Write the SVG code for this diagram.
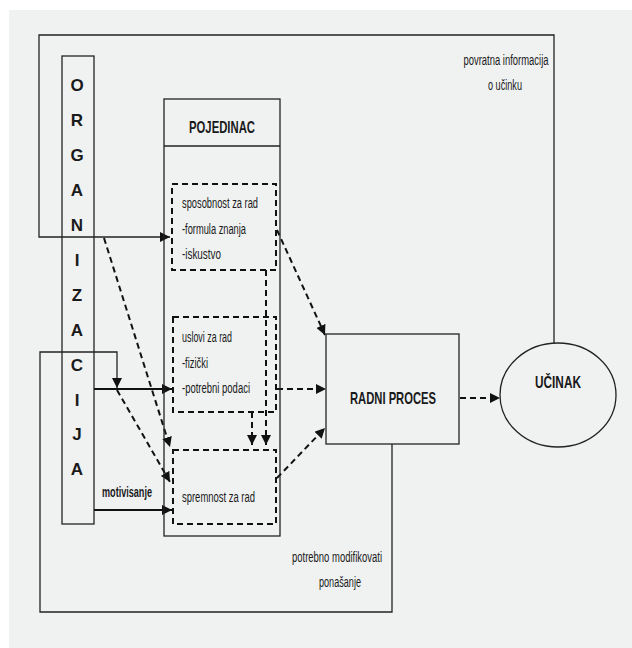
<svg xmlns="http://www.w3.org/2000/svg" width="632" height="648" viewBox="0 0 632 648">
  <defs>
    <marker id="arrow" markerWidth="10" markerHeight="10" viewBox="0 0 10 10" refX="10" refY="5" orient="auto" markerUnits="userSpaceOnUse">
      <path d="M0,0 L10,5 L0,10 Z" fill="#111"/>
    </marker>
    <style>
      .box { fill: none; stroke: #222; stroke-width: 1.3; }
      .dbox { fill: none; stroke: #111; stroke-width: 2; stroke-dasharray: 6 4; }
      .solid { fill: none; stroke: #222; stroke-width: 1.3; }
      .thick { fill: none; stroke: #111; stroke-width: 2; }
      .dash { fill: none; stroke: #111; stroke-width: 2; stroke-dasharray: 6 4; }
      text { font-family: "Liberation Sans", Arial, sans-serif; fill: #1a1a1a; }
      .t { font-size: 14px; }
      .b { font-weight: bold; }
      .letter { font-size: 17px; font-weight: bold; text-anchor: middle; }
    </style>
  </defs>

  <rect x="9" y="10" width="623" height="638" fill="#f0f2f2"/>

  <!-- connectors -->
  <g id="connectors">
    <!-- feedback on performance -->
    <path class="solid" d="M554,343 V35 H39 V237 H170" marker-end="url(#arrow)"/>
    <!-- behaviour modification loop -->
    <path class="solid" d="M392,444 V612 H40 V352 H117 V388" marker-end="url(#arrow)"/>
    <!-- organisation to individual -->
    <path class="thick" d="M94,389 H172" marker-end="url(#arrow)"/>
    <path class="thick" d="M94,510 H172" marker-end="url(#arrow)"/>
    <path class="dash" d="M104,238 L170,447" marker-end="url(#arrow)"/>
    <path class="dash" d="M117,390 L170,482" marker-end="url(#arrow)"/>
    <!-- inside the individual -->
    <path class="dash" d="M266,270 V445" marker-end="url(#arrow)"/>
    <path class="dash" d="M252,412 V445" marker-end="url(#arrow)"/>
    <!-- into the work process -->
    <path class="dash" d="M277,230 L325,335" marker-end="url(#arrow)"/>
    <path class="dash" d="M277,389 H326" marker-end="url(#arrow)"/>
    <path class="dash" d="M277,478 L325,428" marker-end="url(#arrow)"/>
    <!-- work process to performance -->
    <path class="dash" d="M460,398 H500" marker-end="url(#arrow)"/>
  </g>

  <!-- organisation column -->
  <g id="organizacija">
    <rect class="box" x="62" y="56" width="32" height="468"/>
    <text class="letter" x="77" y="91">O</text>
    <text class="letter" x="77" y="126">R</text>
    <text class="letter" x="77" y="161">G</text>
    <text class="letter" x="77" y="196">A</text>
    <text class="letter" x="77" y="231">N</text>
    <text class="letter" x="77" y="266">I</text>
    <text class="letter" x="77" y="301">Z</text>
    <text class="letter" x="77" y="336">A</text>
    <text class="letter" x="77" y="371">C</text>
    <text class="letter" x="77" y="406">I</text>
    <text class="letter" x="77" y="440">J</text>
    <text class="letter" x="77" y="475">A</text>
  </g>

  <!-- individual -->
  <g id="pojedinac">
    <rect class="box" x="164" y="99" width="116" height="437"/>
    <line class="box" x1="164" y1="146" x2="280" y2="146"/>
    <text class="b" x="222" y="133" font-size="17" text-anchor="middle" textLength="66" lengthAdjust="spacingAndGlyphs">POJEDINAC</text>
  </g>

  <g id="sposobnost">
    <rect class="dbox" x="172" y="184" width="104" height="86"/>
    <text class="t" x="182" y="208" textLength="76" lengthAdjust="spacingAndGlyphs">sposobnost za rad</text>
    <text class="t" x="182" y="234" textLength="64" lengthAdjust="spacingAndGlyphs">-formula znanja</text>
    <text class="t" x="182" y="259" textLength="39" lengthAdjust="spacingAndGlyphs">-iskustvo</text>
  </g>

  <g id="uslovi">
    <rect class="dbox" x="173" y="317" width="103" height="95"/>
    <text class="t" x="182" y="342" textLength="50" lengthAdjust="spacingAndGlyphs">uslovi za rad</text>
    <text class="t" x="182" y="368" textLength="26" lengthAdjust="spacingAndGlyphs">-fizički</text>
    <text class="t" x="182" y="393" textLength="68" lengthAdjust="spacingAndGlyphs">-potrebni podaci</text>
  </g>

  <g id="spremnost">
    <rect class="dbox" x="173" y="450" width="103" height="74"/>
    <text class="t" x="182" y="502" textLength="73" lengthAdjust="spacingAndGlyphs">spremnost za rad</text>
  </g>

  <g id="motivisanje-label">
    <text class="b" x="102" y="497" font-size="14" textLength="50" lengthAdjust="spacingAndGlyphs">motivisanje</text>
  </g>

  <!-- work process -->
  <g id="radni-proces">
    <rect class="box" x="326" y="334" width="133" height="110"/>
    <text class="b" x="393" y="404" font-size="17" text-anchor="middle" textLength="86" lengthAdjust="spacingAndGlyphs">RADNI PROCES</text>
  </g>

  <!-- performance -->
  <g id="ucinak">
    <ellipse class="box" cx="558" cy="395" rx="58" ry="52"/>
    <text class="b" x="558" y="388" font-size="17" text-anchor="middle" textLength="46" lengthAdjust="spacingAndGlyphs">UČINAK</text>
  </g>

  <!-- loop labels -->
  <g id="labels">
    <text class="t" x="506" y="65" text-anchor="middle" textLength="85" lengthAdjust="spacingAndGlyphs">povratna informacija</text>
    <text class="t" x="505" y="90" text-anchor="middle" textLength="34" lengthAdjust="spacingAndGlyphs">o učinku</text>
    <text class="t" x="337" y="562" text-anchor="middle" textLength="90" lengthAdjust="spacingAndGlyphs">potrebno modifikovati</text>
    <text class="t" x="340" y="587" text-anchor="middle" textLength="42" lengthAdjust="spacingAndGlyphs">ponašanje</text>
  </g>
</svg>
